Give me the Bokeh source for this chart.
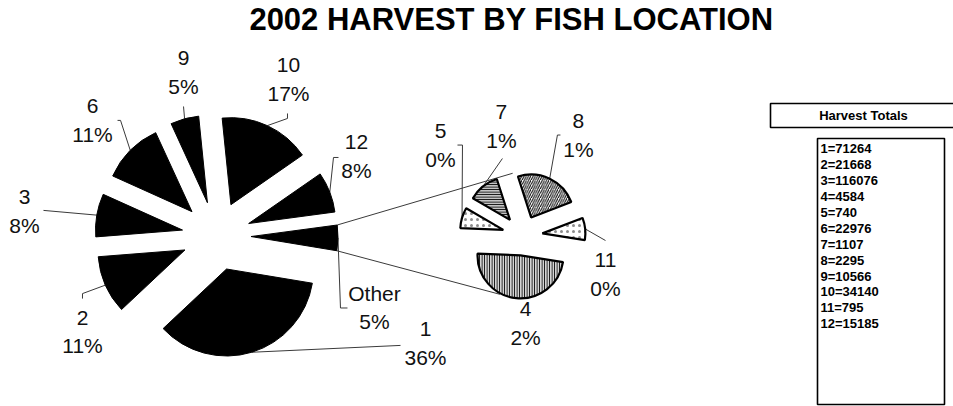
import numpy as np
from bokeh.plotting import figure
from bokeh.models import Range1d
from bokeh.embed import file_html
from bokeh.resources import INLINE
from bokeh.core.properties import value

# ---------------- data ----------------
title_text = "2002 HARVEST BY FISH LOCATION"
main_names = ["1", "2", "3", "6", "9", "10", "12"]
main_values = [71264, 21668, 16076, 22976, 10566, 34140, 15185]
main_pct = ["36%", "11%", "8%", "11%", "5%", "17%", "8%"]
other_name = "Other"
other_pct = "5%"
sub_names = ["4", "5", "7", "8", "11"]
sub_values = [4584, 740, 1107, 2295, 795]
sub_pct = ["2%", "0%", "1%", "1%", "0%"]
legend_title = "Harvest Totals"
legend_lines = ["1=71264", "2=21668", "3=116076", "4=4584", "5=740", "6=22976",
                "7=1107", "8=2295", "9=10566", "10=34140", "11=795", "12=15185"]

# ---------------- layout (screen px) ----------------
W, H = 953, 406
def Y(sy):
    return H - sy

FONT = value("Liberation Sans")
main_c = (216.0, 235.5); main_r = 87.0; main_exp = 34.5; main_start = -9.4
sub_c = (522.0, 235.0); sub_r = 43.0; sub_exp = 20.0; sub_start = -9.0

main_lab_ang = [-27.2, 215.5, 172.7, 137.0, 101.4, 65.3, 29.6, -24.5]
main_lab_dist = [235, 164.6, 193.6, 169.5, 166.8, 172.3, 161, 173.6]
main_lead = [[(-25, 2)], [(0, -38), (0, -33)], [(19, -1)], [(28, 0), (25, 0)],
             [(0, 34)], [(-1, 39), (-1, 34)], [(-23, 1), (-18, 1)], [(-34, 0), (-27, 0)]]
sub_lab_ang = [-88, 132.2, 100.9, 60.9, -24.9]
sub_lab_dist = [88, 122.1, 111.5, 115, 91.5]
sub_lead = [[], [(22, 0), (17, 0)], [(1, 32.5)], [(-21, 0), (-18, 0)], [(0, -33.5)]]
sub_hatch = ["|", ".", "-", "/", "."]
sub_fill = ["#d4d4d4", "white", "#c4c4c4", "white", "white"]
sub_hatch_scale = [2.5, 6, 2.5, 4.5, 6]
sub_hatch_weight = [1.1, 1, 1.1, 1, 1]
sub_hatch_alpha = [1, 0.45, 1, 1, 0.45]
conn_ang = [99, -111]

p = figure(width=W, height=H, x_range=Range1d(0, W), y_range=Range1d(0, H),
           output_backend="svg", toolbar_location=None, min_border=0)
p.axis.visible = False
p.grid.visible = False
p.outline_line_color = None

total = sum(main_values) + sum(sub_values)
main_all_vals = main_values + [sum(sub_values)]
main_all_names = main_names + [other_name]
main_all_pct = main_pct + [other_pct]

def slices(vals, start, tot):
    out = []
    a = start
    for v in vals:
        span = v / tot * 360.0
        out.append((a - span, a))
        a -= span
    return out

m_sl = slices(main_all_vals, main_start, total)
s_sl = slices(sub_values, sub_start, sum(sub_values))

def explode(c, d, a0, a1):
    b = np.radians((a0 + a1) / 2)
    return c[0] + d * np.cos(b), c[1] - d * np.sin(b)

lead_color = "#3a3a3a"

# connector lines from "Other" slice to the secondary pie
o0, o1 = m_sl[-1]
oc = explode(main_c, main_exp, o0, o1)
for a_o, a_s in zip([o1, o0], conn_ang):
    x0 = oc[0] + main_r * np.cos(np.radians(a_o)); y0 = oc[1] - main_r * np.sin(np.radians(a_o))
    x1 = sub_c[0] + (sub_r + sub_exp) * np.cos(np.radians(a_s))
    y1 = sub_c[1] - (sub_r + sub_exp) * np.sin(np.radians(a_s))
    p.line([x0, x1], [Y(y0), Y(y1)], line_color=lead_color, line_width=1)

# leader lines + labels helper
def labels(c, r, d, sl, names, pcts, angs, dists, leads):
    for (a0, a1), nm, pc, la, ld, lead in zip(sl, names, pcts, angs, dists, leads):
        lx = c[0] + ld * np.cos(np.radians(la))
        ly = c[1] - ld * np.sin(np.radians(la))
        if lead:
            ec = explode(c, d, a0, a1)
            b = np.radians((a0 + a1) / 2)
            xs = [ec[0] + r * np.cos(b)] + [lx + ox for ox, oy in lead]
            ys = [ec[1] - r * np.sin(b)] + [ly + oy for ox, oy in lead]
            p.line(xs, [Y(v) for v in ys], line_color=lead_color, line_width=1)
        p.text([lx, lx], [Y(ly - 14), Y(ly + 14)], text=[nm, pc], text_font=FONT,
               text_font_size="21px", text_align="center", text_baseline="middle",
               text_color="#111111")

labels(main_c, main_r, main_exp, m_sl, main_all_names, main_all_pct,
       main_lab_ang, main_lab_dist, main_lead)
labels(sub_c, sub_r, sub_exp, s_sl, sub_names, sub_pct,
       sub_lab_ang, sub_lab_dist, sub_lead)

# main pie (exploded, black)
for a0, a1 in m_sl:
    ex, ey = explode(main_c, main_exp, a0, a1)
    p.wedge(x=ex, y=Y(ey), radius=main_r, start_angle=a0, end_angle=a1,
            start_angle_units="deg", end_angle_units="deg",
            fill_color="black", line_color="black", line_width=1)

# secondary pie (exploded, hatched)
for (a0, a1), hp, fc, hs, hw, ha in zip(s_sl, sub_hatch, sub_fill, sub_hatch_scale,
                                        sub_hatch_weight, sub_hatch_alpha):
    ex, ey = explode(sub_c, sub_exp, a0, a1)
    p.wedge(x=ex, y=Y(ey), radius=sub_r, start_angle=a0, end_angle=a1,
            start_angle_units="deg", end_angle_units="deg",
            fill_color=fc, hatch_pattern=hp, hatch_scale=hs, hatch_color="black",
            hatch_weight=hw, hatch_alpha=ha, line_color="black", line_width=2.2)

# title
p.text([511], [Y(19)], text=[title_text], text_font=FONT, text_font_size="31px",
       text_font_style="bold", text_align="center", text_baseline="middle",
       text_color="black")

# legend boxes
p.quad(left=[770], right=[970], top=[Y(103)], bottom=[Y(127)], fill_color="white",
       line_color="black", line_width=1.6)
p.text([863], [Y(115)], text=[legend_title], text_font=FONT, text_font_size="13px",
       text_font_style="bold", text_align="center", text_baseline="middle",
       text_color="black")
p.quad(left=[817], right=[944], top=[Y(138)], bottom=[Y(404)], fill_color="white",
       line_color="black", line_width=1.6)
ly = [148.3 + 15.9 * i for i in range(len(legend_lines))]
p.text([820] * len(legend_lines), [Y(v) for v in ly], text=legend_lines, text_font=FONT,
       text_font_size="13px", text_font_style="bold", text_align="left",
       text_baseline="middle", text_color="black")

open("out.html", "w").write(file_html(p, INLINE))
